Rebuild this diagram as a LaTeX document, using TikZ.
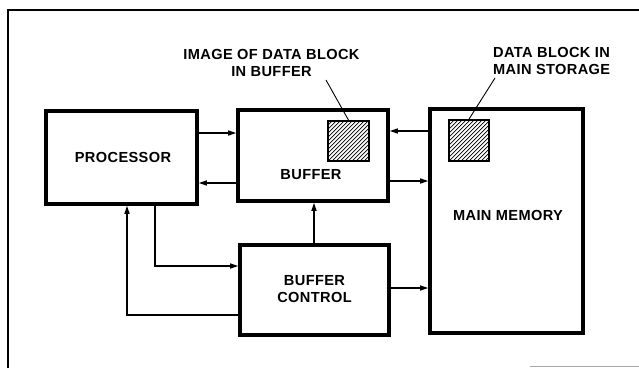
\documentclass[tikz,border=0pt]{standalone}
\usepackage{fontspec}
\setmainfont[LetterSpace=2.5]{Liberation Sans}
\usetikzlibrary{arrows.meta}
\begin{document}
\begin{tikzpicture}[x=1pt,y=-1pt,
  box/.style={draw, line width=3.6pt, inner sep=0pt},
  txt/.style={font=\fontsize{14.6}{16.8}\selectfont\bfseries, align=center, inner sep=0pt},
  arr/.style={line width=1.4pt, -{Triangle[length=8pt,width=5pt]}},
  leader/.style={line width=0.9pt},
  hatch/.style={draw, line width=1.8pt, inner sep=0pt,
    path picture={\foreach \k in {-12,...,12}{\draw[line width=0.7pt] ([xshift=\k*4pt]path picture bounding box.south west) -- ++(60pt,60pt);}}}
]
\useasboundingbox (0,0) rectangle (639,368);
% frame
\draw[line width=1.8pt] (8,368) -- (8,10) -- (639,10);
\draw[line width=0.8pt, black!35] (530,366.5) -- (639,366.5);
% boxes
\node[box, minimum width=151pt, minimum height=93pt] (proc) at (121.5,157.5) {};
\node[box, minimum width=150pt, minimum height=91pt] (buf) at (313,155.5) {};
\node[box, minimum width=149pt, minimum height=90pt] (bc) at (314.5,290) {};
\node[box, minimum width=153pt, minimum height=224pt] (mm) at (506.5,221) {};
% texts
\node[txt] (tproc) at (123,157.5) {PROCESSOR};
\node[txt] (tbuf) at (311,175) {BUFFER};
\node[txt] (tbc) at (314.5,289) {BUFFER\\CONTROL};
\node[txt] (tmm) at (508,215) {MAIN MEMORY};
% hatched blocks
\node[hatch, minimum width=41pt, minimum height=40pt] (img1) at (348.5,141) {};
\node[hatch, minimum width=40pt, minimum height=41pt] (img2) at (469,140.5) {};
% labels
\node[txt] (lab1) at (271.5,63) {IMAGE OF DATA BLOCK\\IN BUFFER};
\node[txt, anchor=west, align=left] (lab2) at (493,61) {DATA BLOCK IN\\MAIN STORAGE};
\coordinate (l1) at (326,80);
\coordinate (l2) at (495,78);
\draw[leader] (l1) -- (img1.north);
\draw[leader] (l2) -- (img2.north);
% connectors
\draw[arr] (proc.east |- 0,133) -- (buf.west |- 0,133);
\draw[arr] (buf.west |- 0,183) -- (proc.east |- 0,183);
\draw[arr] (mm.west |- 0,131) -- (buf.east |- 0,131);
\draw[arr] (buf.east |- 0,181) -- (mm.west |- 0,181);
\draw[arr] (bc.north -| 314,0) -- (buf.south -| 314,0);
\draw[arr] (proc.south -| 155,0) |- (bc.west |- 0,266);
\draw[arr] (bc.west |- 0,315) -| (proc.south -| 127,0);
\draw[arr] (bc.east |- 0,288) -- (mm.west |- 0,288);
\end{tikzpicture}
\end{document}
